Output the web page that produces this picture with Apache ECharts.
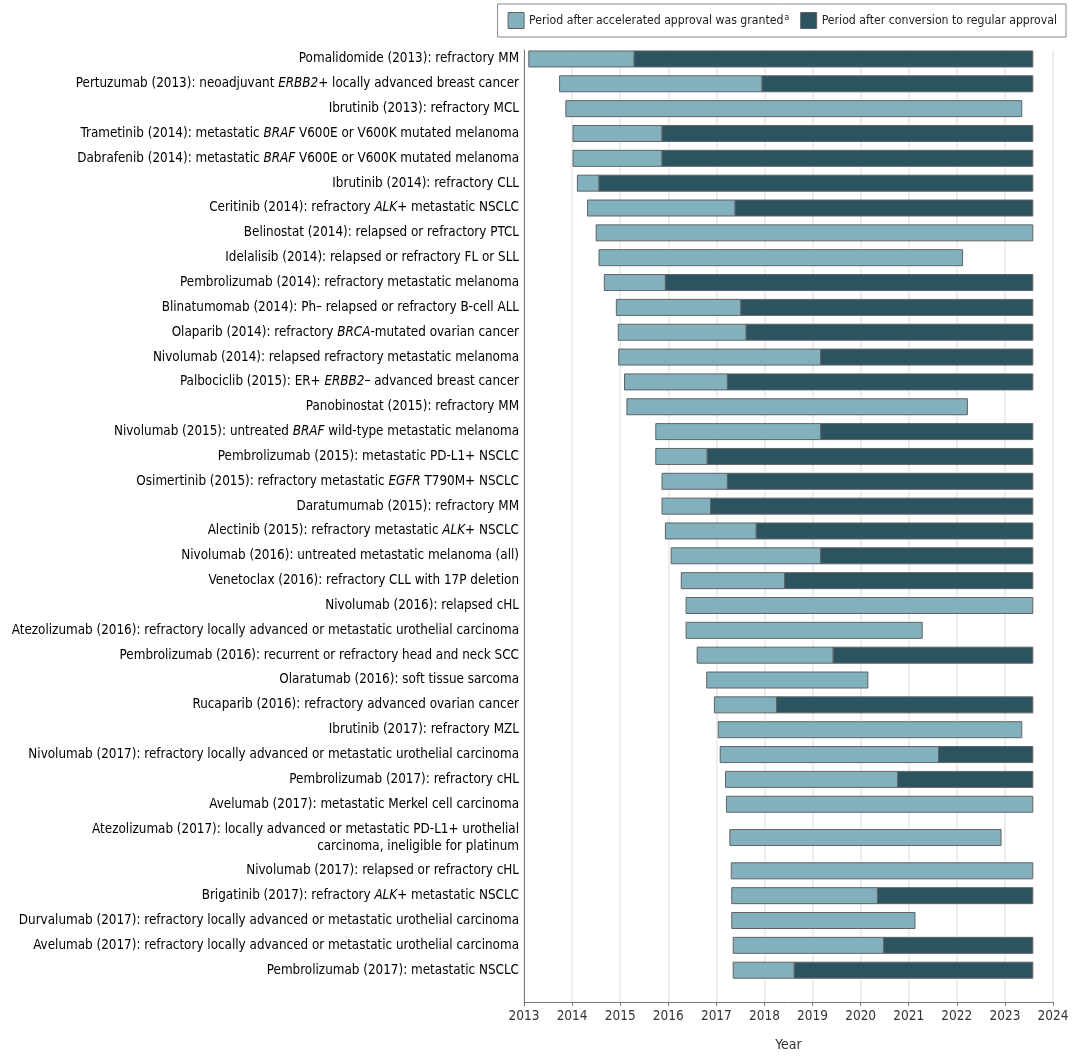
<!DOCTYPE html>
<html>
<head>
<meta charset="utf-8">
<script src="https://cdn.jsdelivr.net/npm/echarts@6/dist/echarts.min.js"></script>
<style>
html,body{margin:0;padding:0;background:#fff;}
#chart{width:1080px;height:1057px;}
</style>
</head>
<body>
<div id="chart"></div>
<script>
// ---- data (years as decimal values); _text_ marks italic parts ----
const drugLabels = [
  "Pomalidomide (2013): refractory MM",
  "Pertuzumab (2013): neoadjuvant _ERBB2+_ locally advanced breast cancer",
  "Ibrutinib (2013): refractory MCL",
  "Trametinib (2014): metastatic _BRAF_ V600E or V600K mutated melanoma",
  "Dabrafenib (2014): metastatic _BRAF_ V600E or V600K mutated melanoma",
  "Ibrutinib (2014): refractory CLL",
  "Ceritinib (2014): refractory _ALK+_ metastatic NSCLC",
  "Belinostat (2014): relapsed or refractory PTCL",
  "Idelalisib (2014): relapsed or refractory FL or SLL",
  "Pembrolizumab (2014): refractory metastatic melanoma",
  "Blinatumomab (2014): Ph– relapsed or refractory B-cell ALL",
  "Olaparib (2014): refractory _BRCA_-mutated ovarian cancer",
  "Nivolumab (2014): relapsed refractory metastatic melanoma",
  "Palbociclib (2015): ER+ _ERBB2–_ advanced breast cancer",
  "Panobinostat (2015): refractory MM",
  "Nivolumab (2015): untreated _BRAF_ wild-type metastatic melanoma",
  "Pembrolizumab (2015): metastatic PD-L1+ NSCLC",
  "Osimertinib (2015): refractory metastatic _EGFR_ T790M+ NSCLC",
  "Daratumumab (2015): refractory MM",
  "Alectinib (2015): refractory metastatic _ALK+_ NSCLC",
  "Nivolumab (2016): untreated metastatic melanoma (all)",
  "Venetoclax (2016): refractory CLL with 17P deletion",
  "Nivolumab (2016): relapsed cHL",
  "Atezolizumab (2016): refractory locally advanced or metastatic urothelial carcinoma",
  "Pembrolizumab (2016): recurrent or refractory head and neck SCC",
  "Olaratumab (2016): soft tissue sarcoma",
  "Rucaparib (2016): refractory advanced ovarian cancer",
  "Ibrutinib (2017): refractory MZL",
  "Nivolumab (2017): refractory locally advanced or metastatic urothelial carcinoma",
  "Pembrolizumab (2017): refractory cHL",
  "Avelumab (2017): metastatic Merkel cell carcinoma",
  "Atezolizumab (2017): locally advanced or metastatic PD-L1+ urothelial\ncarcinoma, ineligible for platinum",
  "Nivolumab (2017): relapsed or refractory cHL",
  "Brigatinib (2017): refractory _ALK+_ metastatic NSCLC",
  "Durvalumab (2017): refractory locally advanced or metastatic urothelial carcinoma",
  "Avelumab (2017): refractory locally advanced or metastatic urothelial carcinoma",
  "Pembrolizumab (2017): metastatic NSCLC"
];
const acceleratedStart = [
  2013.10, 2013.74, 2013.87, 2014.02, 2014.02, 2014.11, 2014.32, 2014.50, 2014.56, 2014.67,
  2014.92, 2014.96, 2014.97, 2015.09, 2015.14, 2015.74, 2015.74, 2015.87, 2015.87, 2015.94,
  2016.06, 2016.27, 2016.37, 2016.37, 2016.60, 2016.80, 2016.96, 2017.04, 2017.08, 2017.19,
  2017.21, 2017.28, 2017.31, 2017.32, 2017.32, 2017.35, 2017.35
];
const regularStart = [
  2015.29, 2017.95, null, 2015.87, 2015.87, 2014.56, 2017.39, null, null, 2015.94,
  2017.51, 2017.62, 2019.17, 2017.23, null, 2019.17, 2016.81, 2017.23, 2016.88, 2017.83,
  2019.17, 2018.42, null, null, 2019.43, null, 2018.25, null, 2021.62, 2020.77,
  null, null, null, 2020.35, null, 2020.48, 2018.62
];
const periodEnd = [
  2023.58, 2023.58, 2023.35, 2023.58, 2023.58, 2023.58, 2023.58, 2023.58, 2022.12, 2023.58,
  2023.58, 2023.58, 2023.58, 2023.58, 2022.22, 2023.58, 2023.58, 2023.58, 2023.58, 2023.58,
  2023.58, 2023.58, 2023.58, 2021.28, 2023.58, 2020.15, 2023.58, 2023.35, 2023.58, 2023.58,
  2023.58, 2022.92, 2023.58, 2023.58, 2021.13, 2023.58, 2023.58
];
const yearMin = 2013, yearMax = 2024;
const legendNames = ["Period after accelerated approval was granted", "Period after conversion to regular approval"];

// ---- build ----
const FONT = "'DejaVu Sans Condensed', 'DejaVu Sans', sans-serif";
const lineCounts = drugLabels.map(s => s.split("\n").length);
const rowPos = [];
let p = 0;
drugLabels.forEach((s, i) => {
  if (i > 0) p += 1 + 0.34 * ((lineCounts[i - 1] - 1) + (lineCounts[i] - 1));
  rowPos.push(p);
});

function toRich(s) {
  return s.split("\n").map(line =>
    line.split("_").map((seg, k) => seg === "" ? "" : (k % 2 ? "{i|" + seg + "}" : "{n|" + seg + "}")).join("")
  ).join("\n");
}

const lightData = drugLabels.map((_, i) => [acceleratedStart[i], regularStart[i] != null ? regularStart[i] : periodEnd[i], rowPos[i]]);
const darkData = [];
drugLabels.forEach((_, i) => { if (regularStart[i] != null) darkData.push([regularStart[i], periodEnd[i], rowPos[i]]); });
const labelData = drugLabels.map((_, i) => [yearMin, rowPos[i]]);

const BAR_H = 16;
function barRender(params, api) {
  const a = api.coord([api.value(0), api.value(2)]);
  const b = api.coord([api.value(1), api.value(2)]);
  return {
    type: 'rect',
    shape: { x: a[0], y: a[1] - BAR_H / 2, width: b[0] - a[0], height: BAR_H },
    style: { fill: api.visual('color'), stroke: '#5f6366', lineWidth: 1 }
  };
}

const LIGHT = '#82b1bd';
const DARK = '#2b5360';
const FS = 13.35;
const LFS = 12.2;

const chart = echarts.init(document.getElementById('chart'), null, { renderer: 'canvas' });
chart.setOption({
  animation: false,
  backgroundColor: '#fff',
  textStyle: { fontFamily: FONT },
  grid: { left: 524, right: 27, top: 50, bottom: 50, containLabel: false },
  legend: {
    data: legendNames,
    right: 14, top: 4,
    padding: [8, 9, 8, 10],
    itemWidth: 16, itemHeight: 16, itemGap: 11,
    icon: 'rect',
    borderColor: '#8a8a8a', borderWidth: 1, backgroundColor: '#fff',
    itemStyle: { borderColor: '#5f6366', borderWidth: 1 },
    formatter: name => name === legendNames[0] ? '{n|' + name + '}{s|a}' : '{n|' + name + '}',
    textStyle: {
      fontFamily: FONT, fontSize: LFS, color: '#222', padding: [0, 0, 0, 0],
      rich: {
        n: { fontFamily: FONT, fontSize: LFS, color: '#222' },
        s: { fontFamily: FONT, fontSize: 8.5, color: '#222', verticalAlign: 'top', padding: [0, 0, 6, 1] }
      }
    }
  },
  xAxis: {
    type: 'value', min: yearMin, max: yearMax, interval: 1,
    name: 'Year', nameLocation: 'middle', nameGap: 36,
    nameTextStyle: { fontFamily: FONT, fontSize: 14, color: '#333' },
    axisLine: { show: true, onZero: false, lineStyle: { color: '#777', width: 1 } },
    axisTick: { show: true, length: 4, lineStyle: { color: '#777' } },
    axisLabel: { fontFamily: FONT, fontSize: 13.5, color: '#333', margin: 7, formatter: v => String(v) },
    splitLine: { show: true, lineStyle: { color: '#e8e8e8', width: 1.5 } }
  },
  yAxis: {
    type: 'value', inverse: true, min: -0.36, max: 37.96,
    axisLine: { show: true, onZero: false, lineStyle: { color: '#777', width: 1 } },
    axisTick: { show: false }, axisLabel: { show: false }, splitLine: { show: false }
  },
  series: [
    {
      name: legendNames[0], type: 'custom', renderItem: barRender,
      itemStyle: { color: LIGHT, borderColor: '#5f6366', borderWidth: 1 },
      encode: { x: [0, 1], y: 2 }, data: lightData, silent: true, z: 3
    },
    {
      name: legendNames[1], type: 'custom', renderItem: barRender,
      itemStyle: { color: DARK, borderColor: '#5f6366', borderWidth: 1 },
      encode: { x: [0, 1], y: 2 }, data: darkData, silent: true, z: 3
    },
    {
      name: 'labels', type: 'custom', silent: true, clip: false,
      encode: { x: 0, y: 1 }, data: labelData,
      renderItem: function (params, api) {
        const c = api.coord([api.value(0), api.value(1)]);
        return {
          type: 'text',
          style: {
            x: c[0] - 5, y: c[1], align: 'right', verticalAlign: 'middle',
            text: toRich(drugLabels[params.dataIndex]),
            rich: {
              n: { fontFamily: FONT, fontSize: FS, color: '#222', lineHeight: 17 },
              i: { fontFamily: FONT, fontSize: FS, color: '#222', fontStyle: 'italic', lineHeight: 17 }
            }
          }
        };
      }
    }
  ]
});
</script>
</body>
</html>
